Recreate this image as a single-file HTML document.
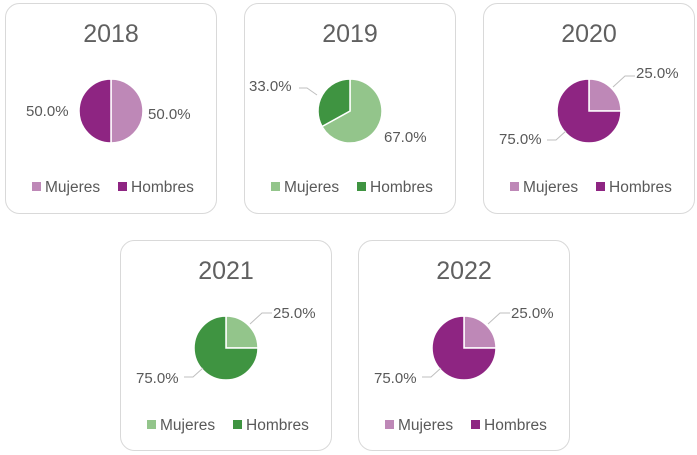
<!DOCTYPE html>
<html><head><meta charset="utf-8"><style>
body{margin:0;width:697px;height:455px;background:#fff;overflow:hidden}
svg{display:block}
text{font-family:"Liberation Sans",sans-serif;fill:#595959}
.l{font-size:15px}
.g{font-size:15.5px}
.t{font-size:25px;fill:#606060}
</style></head><body>
<svg width="697" height="455" viewBox="0 0 697 455">
<defs>
<g id="card"><rect x="0.5" y="0.5" width="211" height="210" rx="14" fill="#fff" stroke="#d9d9d9"/></g>
</defs>
<g transform="translate(5,3)">
<use href="#card"/>
<text x="106" y="39" class="t" text-anchor="middle">2018</text>
<path d="M106,76 A32,32 0 0 1 106,140 Z" fill="#be88b7" stroke="#fff" stroke-width="1.5"/>
<path d="M106,140 A32,32 0 0 1 106,76 Z" fill="#8e2582" stroke="#fff" stroke-width="1.5"/>
<text x="21" y="113" class="l">50.0%</text>
<text x="143" y="116" class="l">50.0%</text>
<rect x="27" y="179" width="9" height="9" fill="#be88b7"/><text x="40" y="189" class="g">Mujeres</text>
<rect x="113" y="179" width="9" height="9" fill="#8e2582"/><text x="126" y="189" class="g">Hombres</text>
</g>
<g transform="translate(244,3)">
<use href="#card"/>
<text x="106" y="39" class="t" text-anchor="middle">2019</text>
<path d="M106,108 L106,76 A32,32 0 1 1 78,123.5 Z" fill="#93c58b" stroke="#fff" stroke-width="1.5"/>
<path d="M106,108 L78,123.5 A32,32 0 0 1 106,76 Z" fill="#3f9441" stroke="#fff" stroke-width="1.5"/>
<polyline points="55,85 63,85 73,92" fill="none" stroke="#bfbfbf"/>
<text x="5" y="88" class="l">33.0%</text>
<text x="140" y="139" class="l">67.0%</text>
<rect x="27" y="179" width="9" height="9" fill="#93c58b"/><text x="40" y="189" class="g">Mujeres</text>
<rect x="113" y="179" width="9" height="9" fill="#3f9441"/><text x="126" y="189" class="g">Hombres</text>
</g>
<g transform="translate(483,3)">
<use href="#card"/>
<text x="106" y="39" class="t" text-anchor="middle">2020</text>
<path d="M106,108 L106,76 A32,32 0 0 1 138,108 Z" fill="#be88b7" stroke="#fff" stroke-width="1.5"/>
<path d="M106,108 L138,108 A32,32 0 1 1 106,76 Z" fill="#8e2582" stroke="#fff" stroke-width="1.5"/>
<polyline points="130,84 142,73 152,73" fill="none" stroke="#bfbfbf"/>
<polyline points="64,137 73,137 83,128" fill="none" stroke="#bfbfbf"/>
<text x="153" y="75" class="l">25.0%</text>
<text x="16" y="141" class="l">75.0%</text>
<rect x="27" y="179" width="9" height="9" fill="#be88b7"/><text x="40" y="189" class="g">Mujeres</text>
<rect x="113" y="179" width="9" height="9" fill="#8e2582"/><text x="126" y="189" class="g">Hombres</text>
</g>
<g transform="translate(120,240)">
<use href="#card"/>
<text x="106" y="39" class="t" text-anchor="middle">2021</text>
<path d="M106,108 L106,76 A32,32 0 0 1 138,108 Z" fill="#93c58b" stroke="#fff" stroke-width="1.5"/>
<path d="M106,108 L138,108 A32,32 0 1 1 106,76 Z" fill="#3f9441" stroke="#fff" stroke-width="1.5"/>
<polyline points="130,84 142,73 152,73" fill="none" stroke="#bfbfbf"/>
<polyline points="64,137 73,137 83,128" fill="none" stroke="#bfbfbf"/>
<text x="153" y="78" class="l">25.0%</text>
<text x="16" y="143" class="l">75.0%</text>
<rect x="27" y="180" width="9" height="9" fill="#93c58b"/><text x="40" y="190" class="g">Mujeres</text>
<rect x="113" y="180" width="9" height="9" fill="#3f9441"/><text x="126" y="190" class="g">Hombres</text>
</g>
<g transform="translate(358,240)">
<use href="#card"/>
<text x="106" y="39" class="t" text-anchor="middle">2022</text>
<path d="M106,108 L106,76 A32,32 0 0 1 138,108 Z" fill="#be88b7" stroke="#fff" stroke-width="1.5"/>
<path d="M106,108 L138,108 A32,32 0 1 1 106,76 Z" fill="#8e2582" stroke="#fff" stroke-width="1.5"/>
<polyline points="130,84 142,73 152,73" fill="none" stroke="#bfbfbf"/>
<polyline points="64,137 73,137 83,128" fill="none" stroke="#bfbfbf"/>
<text x="153" y="78" class="l">25.0%</text>
<text x="16" y="143" class="l">75.0%</text>
<rect x="27" y="180" width="9" height="9" fill="#be88b7"/><text x="40" y="190" class="g">Mujeres</text>
<rect x="113" y="180" width="9" height="9" fill="#8e2582"/><text x="126" y="190" class="g">Hombres</text>
</g>
</svg>
</body></html>
